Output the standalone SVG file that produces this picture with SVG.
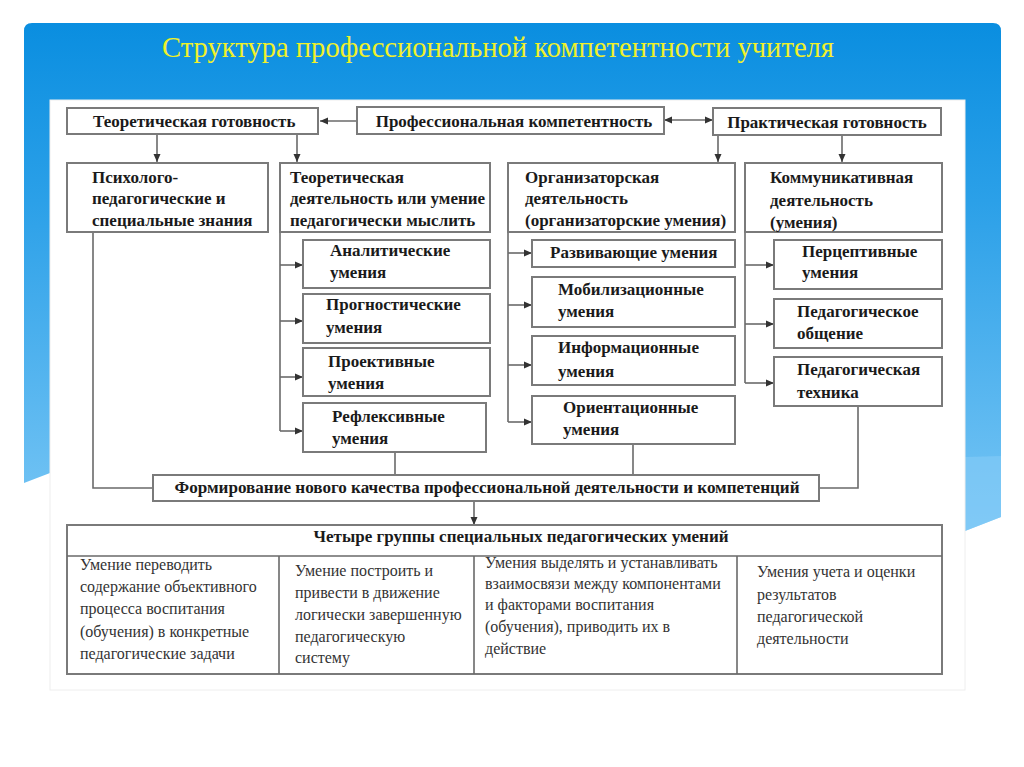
<svg xmlns="http://www.w3.org/2000/svg" width="1024" height="767" viewBox="0 0 1024 767">
<defs>
<linearGradient id="bg" gradientUnits="userSpaceOnUse" x1="0" y1="23" x2="0" y2="530">
<stop offset="0" stop-color="#0a8ee0"/>
<stop offset="0.35" stop-color="#2ba0e8"/>
<stop offset="1" stop-color="#78c6f5"/>
</linearGradient>
<marker id="ah" viewBox="0 0 8 8" refX="8" refY="4" markerWidth="8" markerHeight="8" markerUnits="userSpaceOnUse" orient="auto-start-reverse">
<path d="M0,0.5 L8,4 L0,7.5 Z" fill="#333"/>
</marker>
<style>
.box{fill:#fff;stroke:#7a7a7a;stroke-width:2}
.ln{fill:none;stroke:#6a6a6a;stroke-width:1.6}
.b{font-family:"Liberation Serif","Times New Roman",serif;font-weight:bold;font-size:17px;fill:#1a1a1a}
.r{font-family:"Liberation Serif","Times New Roman",serif;font-size:16px;fill:#333}
.t{font-family:"Liberation Serif","Times New Roman",serif;font-size:30px;fill:#f0f02a}
</style>
</defs>
<rect width="1024" height="767" fill="#fff"/>
<path d="M24,31 Q24,23 32,23 H993 Q1001,23 1001,31 V517 L965,531 V470 H50 V473 L24,483 Z" fill="url(#bg)"/>
<path d="M965,457 L1001,456 V517 L965,531 Z" fill="#86cbf6" opacity="0.6"/>
<rect x="50" y="100" width="915" height="590" fill="#fff" stroke="#eeeeee" stroke-width="1"/>
<text class="t" x="498" y="57" text-anchor="middle" textLength="672" lengthAdjust="spacingAndGlyphs">Структура профессиональной компетентности учителя</text>

<g id="connectors">
<path class="ln" d="M357,121 H320" marker-end="url(#ah)"/>
<path class="ln" d="M664,120 H713" marker-start="url(#ah)" marker-end="url(#ah)"/>
<path class="ln" d="M157,134 V162" marker-end="url(#ah)"/>
<path class="ln" d="M297,134 V162" marker-end="url(#ah)"/>
<path class="ln" d="M718,135 V162" marker-end="url(#ah)"/>
<path class="ln" d="M842,135 V162" marker-end="url(#ah)"/>
<path class="ln" d="M280,233 V431"/>
<path class="ln" d="M280,265 H303" marker-end="url(#ah)"/>
<path class="ln" d="M280,321 H303" marker-end="url(#ah)"/>
<path class="ln" d="M280,377 H303" marker-end="url(#ah)"/>
<path class="ln" d="M280,431 H303" marker-end="url(#ah)"/>
<path class="ln" d="M508,233 V422"/>
<path class="ln" d="M508,253 H532" marker-end="url(#ah)"/>
<path class="ln" d="M508,305 H532" marker-end="url(#ah)"/>
<path class="ln" d="M508,365 H532" marker-end="url(#ah)"/>
<path class="ln" d="M508,422 H532" marker-end="url(#ah)"/>
<path class="ln" d="M745,233 V383"/>
<path class="ln" d="M745,265 H774" marker-end="url(#ah)"/>
<path class="ln" d="M745,324 H774" marker-end="url(#ah)"/>
<path class="ln" d="M745,383 H774" marker-end="url(#ah)"/>
<path class="ln" d="M93,233 V488 H153"/>
<path class="ln" d="M395,452 V474"/>
<path class="ln" d="M633,444 V474"/>
<path class="ln" d="M858,406 V488 H819"/>
<path class="ln" d="M474,501 V525" marker-end="url(#ah)"/>
</g>

<g id="prof">
<rect class="box" x="357" y="107" width="307" height="27"/>
<text class="b" x="514" y="127" text-anchor="middle">Профессиональная компетентность</text>
</g>
<g id="teor-gotov">
<rect class="box" x="67" y="108" width="251" height="26"/>
<text class="b" x="93" y="127">Теоретическая готовность</text>
</g>
<g id="prakt-gotov">
<rect class="box" x="713" y="108" width="228" height="27"/>
<text class="b" x="827" y="128" text-anchor="middle">Практическая готовность</text>
</g>

<g id="psych">
<rect class="box" x="67" y="163" width="201" height="69"/>
<text class="b" x="92" y="183">Психолого-</text>
<text class="b" x="92" y="204">педагогические и</text>
<text class="b" x="92" y="226">специальные знания</text>
</g>
<g id="teor-deyat">
<rect class="box" x="280" y="163" width="210" height="69"/>
<text class="b" x="290" y="183">Теоретическая</text>
<text class="b" x="290" y="204">деятельность или умение</text>
<text class="b" x="290" y="226">педагогически мыслить</text>
</g>
<g id="org">
<rect class="box" x="508" y="163" width="227" height="69"/>
<text class="b" x="525" y="183">Организаторская</text>
<text class="b" x="525" y="204">деятельность</text>
<text class="b" x="525" y="226">(организаторские умения)</text>
</g>
<g id="komm">
<rect class="box" x="745" y="163" width="197" height="69"/>
<text class="b" x="770" y="183">Коммуникативная</text>
<text class="b" x="770" y="206">деятельность</text>
<text class="b" x="770" y="228">(умения)</text>
</g>

<g id="analit">
<rect class="box" x="303" y="240" width="187" height="48"/>
<text class="b" x="330" y="256">Аналитические</text>
<text class="b" x="330" y="278">умения</text>
</g>
<g id="prognost">
<rect class="box" x="303" y="294" width="187" height="49"/>
<text class="b" x="326" y="310">Прогностические</text>
<text class="b" x="326" y="333">умения</text>
</g>
<g id="proekt">
<rect class="box" x="303" y="348" width="187" height="48"/>
<text class="b" x="328" y="367">Проективные</text>
<text class="b" x="328" y="389">умения</text>
</g>
<g id="reflex">
<rect class="box" x="303" y="403" width="183" height="49"/>
<text class="b" x="332" y="422">Рефлексивные</text>
<text class="b" x="332" y="444">умения</text>
</g>

<g id="razv">
<rect class="box" x="532" y="240" width="203" height="27"/>
<text class="b" x="550" y="258">Развивающие умения</text>
</g>
<g id="mobil">
<rect class="box" x="532" y="277" width="203" height="50"/>
<text class="b" x="558" y="295">Мобилизационные</text>
<text class="b" x="558" y="317">умения</text>
</g>
<g id="inform">
<rect class="box" x="532" y="336" width="203" height="49"/>
<text class="b" x="558" y="353">Информационные</text>
<text class="b" x="558" y="377">умения</text>
</g>
<g id="orient">
<rect class="box" x="532" y="396" width="203" height="48"/>
<text class="b" x="563" y="413">Ориентационные</text>
<text class="b" x="563" y="435">умения</text>
</g>

<g id="percept">
<rect class="box" x="774" y="240" width="168" height="49"/>
<text class="b" x="802" y="257">Перцептивные</text>
<text class="b" x="802" y="278">умения</text>
</g>
<g id="obshch">
<rect class="box" x="774" y="299" width="168" height="49"/>
<text class="b" x="797" y="317">Педагогическое</text>
<text class="b" x="797" y="339">общение</text>
</g>
<g id="tehnika">
<rect class="box" x="774" y="357" width="168" height="49"/>
<text class="b" x="797" y="375">Педагогическая</text>
<text class="b" x="797" y="398">техника</text>
</g>

<g id="formirovanie">
<rect class="box" x="153" y="475" width="666" height="26"/>
<text class="b" x="487" y="493" text-anchor="middle" textLength="625" lengthAdjust="spacingAndGlyphs">Формирование нового качества профессиональной деятельности и компетенций</text>
</g>

<g id="table">
<rect class="box" x="67" y="525" width="875" height="149"/>
<path class="ln" d="M67,556 H942 M279,556 V674 M474,556 V674 M737,556 V674" stroke="#7a7a7a" stroke-width="2"/>
<text class="b" x="521" y="542" text-anchor="middle" textLength="415" lengthAdjust="spacingAndGlyphs">Четыре группы специальных педагогических умений</text>
<text class="r" x="80" y="570">Умение переводить</text>
<text class="r" x="80" y="592">содержание объективного</text>
<text class="r" x="80" y="614">процесса воспитания</text>
<text class="r" x="80" y="637">(обучения) в конкретные</text>
<text class="r" x="80" y="659">педагогические задачи</text>
<text class="r" x="295" y="576">Умение построить и</text>
<text class="r" x="295" y="598">привести в движение</text>
<text class="r" x="295" y="620">логически завершенную</text>
<text class="r" x="295" y="642">педагогическую</text>
<text class="r" x="295" y="663">систему</text>
<text class="r" x="485" y="568">Умения выделять и устанавливать</text>
<text class="r" x="485" y="589">взаимосвязи между компонентами</text>
<text class="r" x="485" y="610">и факторами воспитания</text>
<text class="r" x="485" y="632">(обучения), приводить их в</text>
<text class="r" x="485" y="654">действие</text>
<text class="r" x="757" y="577">Умения учета и оценки</text>
<text class="r" x="757" y="600">результатов</text>
<text class="r" x="757" y="622">педагогической</text>
<text class="r" x="757" y="644">деятельности</text>
</g>
</svg>
